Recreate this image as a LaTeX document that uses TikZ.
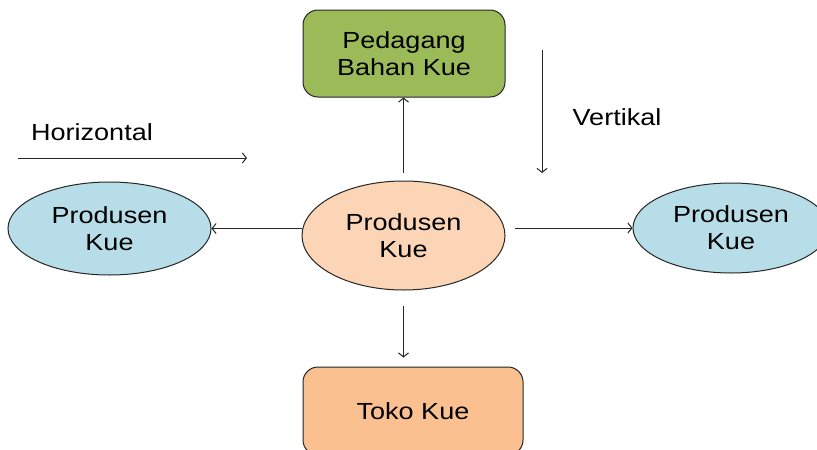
\documentclass[tikz,border=0pt]{standalone}
\usepackage{fontspec}
\setmainfont{Liberation Sans}[FakeStretch=1.16]
\usetikzlibrary{shapes.geometric,arrows.meta}
\definecolor{boxgreen}{HTML}{9BBB59}
\definecolor{peach}{HTML}{FBD5B5}
\definecolor{lblue}{HTML}{B7DEE8}
\definecolor{tokoc}{HTML}{FAC090}
\tikzset{
  txt/.style={font=\fontsize{23.3}{27}\selectfont, text=black, align=center},
  rbox/.style={txt, draw=black!85, line width=1pt, rounded corners=15pt, inner sep=0pt},
  ell/.style={txt, ellipse, draw=black!85, line width=1pt, inner sep=0pt},
  arr/.style={draw=black!85, line width=1pt, -{Straight Barb[length=4pt,width=10pt]}}
}
\begin{document}
\begin{tikzpicture}[x=1pt,y=-1pt]
\clip (0,0) rectangle (817,450);
\fill[white] (0,0) rectangle (817,450);
\node[rbox, fill=boxgreen, minimum width=202pt, minimum height=87pt] (top) at (404,53.5) {Pedagang\\Bahan Kue};
\node[ell, fill=peach, minimum width=203pt, minimum height=109pt] (c) at (403.5,235.5) {Produsen\\Kue};
\node[ell, fill=lblue, minimum width=203pt, minimum height=93pt] (l) at (109.5,228.5) {Produsen\\Kue};
\node[ell, fill=lblue, minimum width=196pt, minimum height=90pt] (r) at (731,228) {Produsen\\Kue};
\node[rbox, fill=tokoc, minimum width=220pt, minimum height=88pt] (toko) at (413,411) {Toko Kue};
\node[txt] (hl) at (92,132) {Horizontal};
\node[txt] (vl) at (617,117) {Vertikal};
\coordinate (h1) at (18,158);
\coordinate (h2) at (247,158);
\coordinate (v1) at (542,50);
\coordinate (v2) at (542,173);
\draw[arr, shorten <=8pt] (c.north) -- (c.north |- top.south);
\draw[arr, shorten <=15pt, shorten >=9pt] (c.south) -- (c.south |- toko.north);
\draw[arr] (c.west |- l.east) -- (l.east);
\draw[arr, shorten <=9pt] (c.east |- r.west) -- (r.west);
\draw[arr] (h1) -- (h2);
\draw[arr] (v1) -- (v2);
\end{tikzpicture}
\end{document}
